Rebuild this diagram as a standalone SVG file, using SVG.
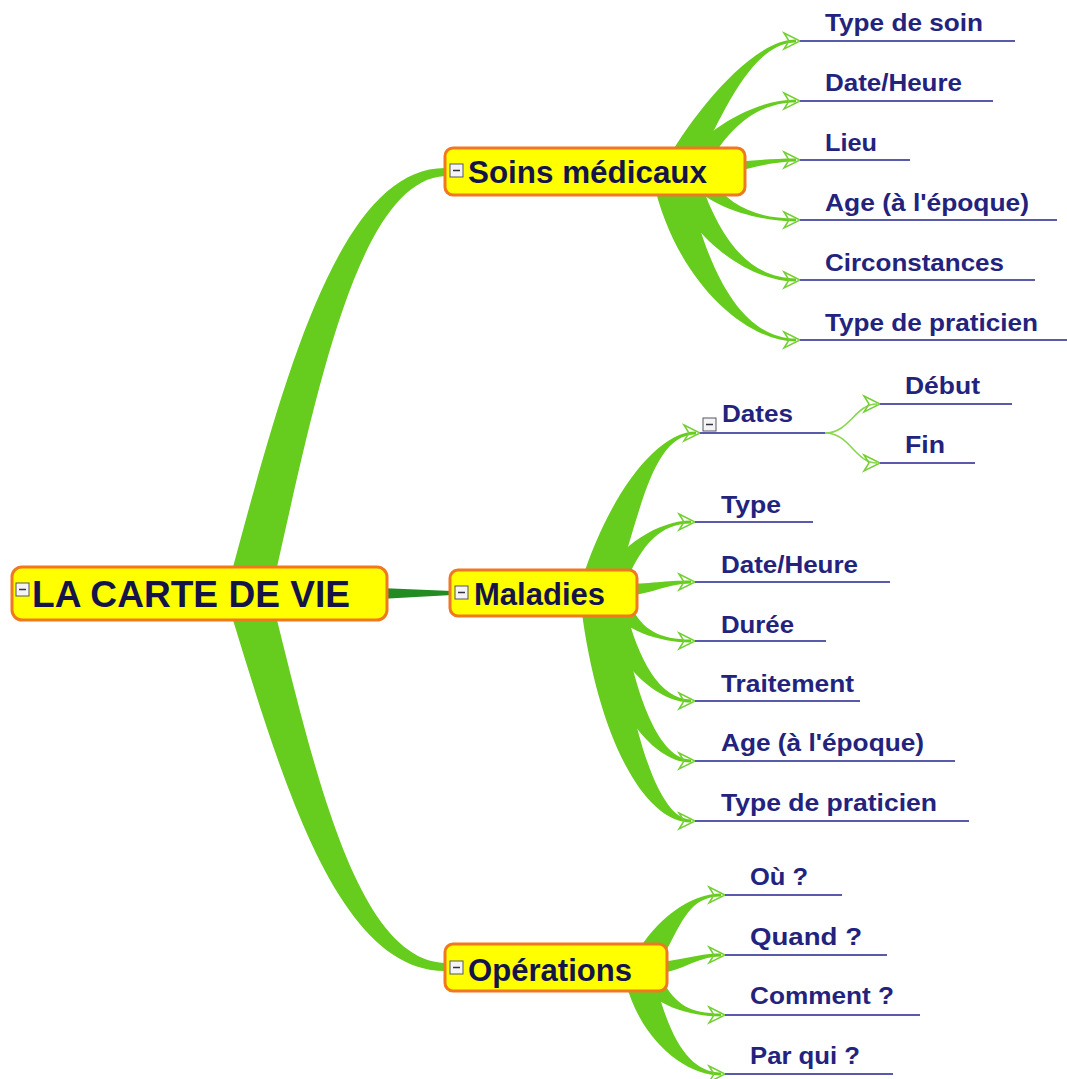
<svg xmlns="http://www.w3.org/2000/svg" xmlns:xlink="http://www.w3.org/1999/xlink" width="1067" height="1079" viewBox="0 0 1067 1079">
<style>
.br{fill:#66cc1e;stroke:none}
.thin{fill:none;stroke:#8ad64c;stroke-width:1.6}
.arr{fill:none;stroke:#74cf34;stroke-width:1.5;stroke-linejoin:miter}
.box{fill:#ffff00;stroke:#f0781e;stroke-width:3}
.ico{fill:#f4f4f4;stroke:#555566;stroke-width:1}
.icm{stroke:#333344;stroke-width:1.5}
.t0{font-family:"Liberation Sans",Arial,sans-serif;font-weight:bold;font-size:37px;fill:#14144a}
.t1{font-family:"Liberation Sans",Arial,sans-serif;font-weight:bold;font-size:31px;fill:#14144a}
.t2{font-family:"Liberation Sans",Arial,sans-serif;font-weight:bold;font-size:24px;fill:#23237e}
.ul{stroke:#5a5aaa;stroke-width:2}
</style>
<defs>
<path id="ah" class="arr" d="M-16,-8 L0,0 L-16,8 L-11,0 Z"/>
</defs>
<rect width="1067" height="1079" fill="#ffffff"/>
<g id="connectors">
<path class="br" d="M233,567 C285,375 340,168 445,168 L445,176 C360,180 318,385 277,567 Z"/>
<path class="br" d="M233,620 C285,790 340,971 445,971 L445,963 C360,960 318,785 277,620 Z"/>
<path d="M380,588 L452,591 L452,595 L380,599 Z" fill="#228b22"/>
<path class="br" d="M664,165 C689,120 750,39.5 796,39.5 L796,42.5 C750,42.5 721,120 696,165 Z"/>
<path class="br" d="M682,165 C702,130 755,99.5 796,99.5 L796,102.5 C755,102.5 728,130 708,165 Z"/>
<path class="br" d="M700,163 C740,163 760,158.5 796,158.5 L796,161.5 C760,161.5 740,175 700,175 Z"/>
<path class="br" d="M688,180 C705,205 755,221.5 796,221.5 L796,218.5 C755,218.5 729,205 712,180 Z"/>
<path class="br" d="M670,180 C690,240 750,281.5 796,281.5 L796,278.5 C750,278.5 720,240 700,180 Z"/>
<path class="br" d="M653,180 C675,280 745,341.5 796,341.5 L796,338.5 C745,338.5 709,280 687,180 Z"/>
<path class="br" d="M582,580 C607,500 655,431.5 696,431.5 L696,434.5 C655,434.5 643,500 618,580 Z"/>
<path class="br" d="M603,580 C618,545 660,520.5 691,520.5 L691,523.5 C660,523.5 642,545 627,580 Z"/>
<path class="br" d="M620,584 C650,584 665,580.5 691,580.5 L691,583.5 C665,583.5 650,596 620,596 Z"/>
<path class="br" d="M609,606 C620,630 660,642.5 691,642.5 L691,639.5 C660,639.5 642,630 631,606 Z"/>
<path class="br" d="M599,606 C612,660 655,702.5 691,702.5 L691,699.5 C660,699.5 638,660 625,606 Z"/>
<path class="br" d="M590,606 C605,700 650,762.5 691,762.5 L691,759.5 C660,759.5 635,700 620,606 Z"/>
<path class="br" d="M581,606 C598,740 645,822.5 691,822.5 L691,819.5 C660,819.5 632,740 615,606 Z"/>
<path class="br" d="M636,955 C655,920 690,893.5 721,893.5 L721,896.5 C690,896.5 683,920 664,955 Z"/>
<path class="br" d="M650,962 C680,962 695,953.5 721,953.5 L721,956.5 C695,956.5 680,974 650,974 Z"/>
<path class="br" d="M638,980 C652,1005 690,1016.5 721,1016.5 L721,1013.5 C690,1013.5 676,1005 662,980 Z"/>
<path class="br" d="M625,980 C640,1040 685,1075.5 721,1075.5 L721,1072.5 C690,1072.5 670,1040 655,980 Z"/>
<path class="thin" d="M825,433 C850,433 855,404 877,404"/>
<path class="thin" d="M825,433 C850,433 855,463 877,463"/>
<use xlink:href="#ah" href="#ah" x="800" y="41"/>
<use xlink:href="#ah" href="#ah" x="800" y="101"/>
<use xlink:href="#ah" href="#ah" x="800" y="160"/>
<use xlink:href="#ah" href="#ah" x="800" y="220"/>
<use xlink:href="#ah" href="#ah" x="800" y="280"/>
<use xlink:href="#ah" href="#ah" x="800" y="340"/>
<use xlink:href="#ah" href="#ah" x="700" y="433"/>
<use xlink:href="#ah" href="#ah" x="880" y="404"/>
<use xlink:href="#ah" href="#ah" x="880" y="463"/>
<use xlink:href="#ah" href="#ah" x="695" y="522"/>
<use xlink:href="#ah" href="#ah" x="695" y="582"/>
<use xlink:href="#ah" href="#ah" x="695" y="641"/>
<use xlink:href="#ah" href="#ah" x="695" y="701"/>
<use xlink:href="#ah" href="#ah" x="695" y="761"/>
<use xlink:href="#ah" href="#ah" x="695" y="821"/>
<use xlink:href="#ah" href="#ah" x="725" y="895"/>
<use xlink:href="#ah" href="#ah" x="725" y="955"/>
<use xlink:href="#ah" href="#ah" x="725" y="1015"/>
<use xlink:href="#ah" href="#ah" x="725" y="1074"/>
</g>
<g id="root">
<rect class="box" x="12" y="567" width="375" height="53" rx="10"/>
<rect class="ico" x="16" y="583" width="13" height="13"/><line class="icm" x1="19" y1="589.5" x2="26" y2="589.5"/>
<text class="t0" x="32" y="607" textLength="318" lengthAdjust="spacingAndGlyphs">LA CARTE DE VIE</text>
</g>
<g id="soins">
<rect class="box" x="445" y="148" width="300" height="47" rx="8"/>
<rect class="ico" x="450" y="164" width="13" height="13"/><line class="icm" x1="453" y1="170.5" x2="460" y2="170.5"/>
<text class="t1" x="468" y="183" textLength="239" lengthAdjust="spacingAndGlyphs">Soins médicaux</text>
</g>
<g id="maladies">
<rect class="box" x="450" y="570" width="187" height="46" rx="8"/>
<rect class="ico" x="455" y="586" width="13" height="13"/><line class="icm" x1="458" y1="592.5" x2="465" y2="592.5"/>
<text class="t1" x="474" y="605" textLength="131" lengthAdjust="spacingAndGlyphs">Maladies</text>
</g>
<g id="operations">
<rect class="box" x="445" y="944" width="222" height="47" rx="8"/>
<rect class="ico" x="450" y="961" width="13" height="13"/><line class="icm" x1="453" y1="967.5" x2="460" y2="967.5"/>
<text class="t1" x="468" y="981" textLength="164" lengthAdjust="spacingAndGlyphs">Opérations</text>
</g>
<g id="s-type-soin"><line class="ul" x1="800" y1="41" x2="1015" y2="41"/><text class="t2" x="825" y="31" textLength="158" lengthAdjust="spacingAndGlyphs">Type de soin</text></g>
<g id="s-date-heure"><line class="ul" x1="800" y1="101" x2="993" y2="101"/><text class="t2" x="825" y="91" textLength="137" lengthAdjust="spacingAndGlyphs">Date/Heure</text></g>
<g id="s-lieu"><line class="ul" x1="800" y1="160" x2="910" y2="160"/><text class="t2" x="825" y="151" textLength="52" lengthAdjust="spacingAndGlyphs">Lieu</text></g>
<g id="s-age"><line class="ul" x1="800" y1="220" x2="1057" y2="220"/><text class="t2" x="825" y="211" textLength="204" lengthAdjust="spacingAndGlyphs">Age (à l'époque)</text></g>
<g id="s-circ"><line class="ul" x1="800" y1="280" x2="1035" y2="280"/><text class="t2" x="825" y="271" textLength="179" lengthAdjust="spacingAndGlyphs">Circonstances</text></g>
<g id="s-prat"><line class="ul" x1="800" y1="340" x2="1067" y2="340"/><text class="t2" x="825" y="331" textLength="213" lengthAdjust="spacingAndGlyphs">Type de praticien</text></g>
<g id="m-dates"><line class="ul" x1="700" y1="433" x2="825" y2="433"/><rect class="ico" x="703" y="418" width="13" height="13"/><line class="icm" x1="706" y1="424.5" x2="713" y2="424.5"/><text class="t2" x="722" y="422" textLength="71" lengthAdjust="spacingAndGlyphs">Dates</text></g>
<g id="m-debut"><line class="ul" x1="880" y1="404" x2="1012" y2="404"/><text class="t2" x="905" y="394" textLength="75" lengthAdjust="spacingAndGlyphs">Début</text></g>
<g id="m-fin"><line class="ul" x1="880" y1="463" x2="975" y2="463"/><text class="t2" x="905" y="453" textLength="40" lengthAdjust="spacingAndGlyphs">Fin</text></g>
<g id="m-type"><line class="ul" x1="695" y1="522" x2="813" y2="522"/><text class="t2" x="721" y="513" textLength="60" lengthAdjust="spacingAndGlyphs">Type</text></g>
<g id="m-date-heure"><line class="ul" x1="695" y1="582" x2="890" y2="582"/><text class="t2" x="721" y="573" textLength="137" lengthAdjust="spacingAndGlyphs">Date/Heure</text></g>
<g id="m-duree"><line class="ul" x1="695" y1="641" x2="826" y2="641"/><text class="t2" x="721" y="633" textLength="73" lengthAdjust="spacingAndGlyphs">Durée</text></g>
<g id="m-trait"><line class="ul" x1="695" y1="701" x2="860" y2="701"/><text class="t2" x="721" y="692" textLength="133" lengthAdjust="spacingAndGlyphs">Traitement</text></g>
<g id="m-age"><line class="ul" x1="695" y1="761" x2="955" y2="761"/><text class="t2" x="721" y="751" textLength="203" lengthAdjust="spacingAndGlyphs">Age (à l'époque)</text></g>
<g id="m-prat"><line class="ul" x1="695" y1="821" x2="969" y2="821"/><text class="t2" x="721" y="811" textLength="216" lengthAdjust="spacingAndGlyphs">Type de praticien</text></g>
<g id="o-ou"><line class="ul" x1="725" y1="895" x2="842" y2="895"/><text class="t2" x="750" y="885" textLength="58" lengthAdjust="spacingAndGlyphs">Où ?</text></g>
<g id="o-quand"><line class="ul" x1="725" y1="955" x2="887" y2="955"/><text class="t2" x="750" y="945" textLength="112" lengthAdjust="spacingAndGlyphs">Quand ?</text></g>
<g id="o-comment"><line class="ul" x1="725" y1="1015" x2="920" y2="1015"/><text class="t2" x="750" y="1004" textLength="144" lengthAdjust="spacingAndGlyphs">Comment ?</text></g>
<g id="o-parqui"><line class="ul" x1="725" y1="1074" x2="893" y2="1074"/><text class="t2" x="750" y="1064" textLength="110" lengthAdjust="spacingAndGlyphs">Par qui ?</text></g>
</svg>
